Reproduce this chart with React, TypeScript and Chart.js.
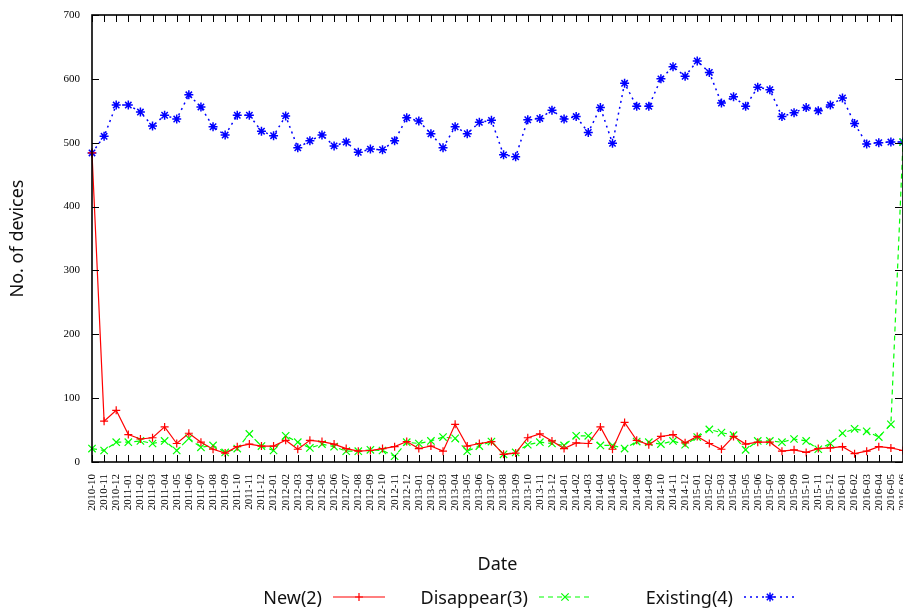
import React, { useEffect, useRef } from 'react';
import { Chart, registerables } from 'chart.js';

Chart.register(...registerables);

const months = [
  '2010-10', '2010-11', '2010-12',
  '2011-01', '2011-02', '2011-03', '2011-04', '2011-05', '2011-06', '2011-07', '2011-08', '2011-09', '2011-10', '2011-11', '2011-12',
  '2012-01', '2012-02', '2012-03', '2012-04', '2012-05', '2012-06', '2012-07', '2012-08', '2012-09', '2012-10', '2012-11', '2012-12',
  '2013-01', '2013-02', '2013-03', '2013-04', '2013-05', '2013-06', '2013-07', '2013-08', '2013-09', '2013-10', '2013-11', '2013-12',
  '2014-01', '2014-02', '2014-03', '2014-04', '2014-05', '2014-07', '2014-08', '2014-09', '2014-10', '2014-11', '2014-12',
  '2015-01', '2015-02', '2015-03', '2015-04', '2015-05', '2015-06', '2015-07', '2015-08', '2015-09', '2015-10', '2015-11', '2015-12',
  '2016-01', '2016-02', '2016-03', '2016-04', '2016-05', '2016-06',
];

const newDevices = [
  484, 64, 81, 43, 36, 38, 55, 29, 45, 31,
  20, 14, 24, 28, 25, 25, 34, 20, 34, 32,
  28, 21, 17, 18, 21, 24, 32, 21, 25, 17,
  59, 25, 29, 32, 12, 14, 38, 44, 33, 21,
  30, 29, 55, 20, 62, 34, 27, 40, 43, 30,
  40, 29, 20, 40, 28, 31, 31, 17, 19, 15,
  21, 22, 24, 13, 17, 24, 22, 18,
];

const disappearDevices = [
  21, 18, 31, 31, 33, 29, 33, 18, 37, 23,
  26, 15, 21, 44, 25, 18, 41, 31, 22, 28,
  24, 17, 17, 19, 18, 9, 31, 29, 33, 39,
  37, 17, 25, 32, 12, 15, 27, 31, 29, 26,
  41, 41, 26, 26, 21, 32, 31, 28, 33, 27,
  39, 51, 46, 42, 19, 33, 33, 31, 36, 33,
  20, 29, 45, 52, 48, 39, 59, 501,
];

const existingDevices = [
  484, 510, 559, 559, 548, 526, 543, 537, 575, 556,
  525, 512, 543, 543, 518, 511, 542, 492, 503, 512,
  495, 501, 485, 490, 489, 503, 539, 534, 514, 492,
  525, 514, 532, 535, 481, 478, 536, 538, 551, 537,
  541, 516, 555, 499, 593, 557, 557, 600, 619, 604,
  628, 610, 562, 572, 557, 587, 583, 541, 547, 555,
  550, 559, 570, 530, 498, 500, 501, 501,
];

const seriesLabels = ['New(2)', 'Disappear(3)', 'Existing(4)'];

const W = 903;
const H = 609;
const PLOT_LEFT = 92;
const PLOT_TOP = 15;
const PLOT_BOTTOM = 462;
const LEGEND_TEXT_RIGHT = [322, 528, 733];
const LEGEND_BASELINE = 604;

function drawMarker(ctx: CanvasRenderingContext2D, style: string, x: number, y: number, r: number) {
  ctx.beginPath();
  if (style === 'cross' || style === 'star') {
    ctx.moveTo(x - r, y); ctx.lineTo(x + r, y);
    ctx.moveTo(x, y - r); ctx.lineTo(x, y + r);
  }
  if (style === 'crossRot' || style === 'star') {
    const d = r * Math.SQRT1_2;
    ctx.moveTo(x - d, y - d); ctx.lineTo(x + d, y + d);
    ctx.moveTo(x - d, y + d); ctx.lineTo(x + d, y - d);
  }
  ctx.stroke();
}

const framePlugin = {
  id: 'gnuplotFrame',
  afterDatasetsDraw(chart: any) {
    const { ctx, chartArea: a, scales } = chart;
    const xs = scales.x;
    const ys = scales.y;
    const tl = 7;
    ctx.save();
    ctx.setLineDash([]);
    ctx.strokeStyle = '#000';
    ctx.lineWidth = 1;
    ctx.beginPath();
    xs.ticks.forEach((_: any, i: number) => {
      const px = Math.round(xs.getPixelForTick(i)) + 0.5;
      ctx.moveTo(px, a.bottom); ctx.lineTo(px, a.bottom - tl);
      ctx.moveTo(px, a.top); ctx.lineTo(px, a.top + tl);
    });
    ys.ticks.forEach((_: any, i: number) => {
      const py = Math.round(ys.getPixelForTick(i)) + 0.5;
      ctx.moveTo(a.left, py); ctx.lineTo(a.left + tl, py);
      ctx.moveTo(a.right - 1, py); ctx.lineTo(a.right - 1 - tl, py);
    });
    ctx.stroke();
    ctx.lineWidth = 1.6;
    ctx.strokeRect(a.left, a.top, a.right - a.left, a.bottom - a.top);
    ctx.restore();
  },
};

const legendPlugin = {
  id: 'gnuplotLegend',
  afterDraw(chart: any) {
    const ctx: CanvasRenderingContext2D = chart.ctx;
    ctx.save();
    chart.data.datasets.forEach((ds: any, i: number) => {
      const tr = LEGEND_TEXT_RIGHT[i];
      ctx.font = '18px "Noto Sans"';
      ctx.fillStyle = '#111';
      ctx.textAlign = 'right';
      ctx.textBaseline = 'alphabetic';
      ctx.fillText(ds.label, tr, LEGEND_BASELINE);
      const y = LEGEND_BASELINE - 7;
      const x0 = tr + 11;
      const x1 = x0 + 52;
      ctx.strokeStyle = ds.borderColor;
      ctx.lineWidth = ds.borderWidth;
      ctx.setLineDash(ds.borderDash || []);
      ctx.beginPath();
      ctx.moveTo(x0, y); ctx.lineTo(x1, y);
      ctx.stroke();
      ctx.setLineDash([]);
      ctx.lineWidth = ds.pointBorderWidth;
      drawMarker(ctx, ds.pointStyle, (x0 + x1) / 2, y, ds.pointRadius);
    });
    ctx.restore();
  },
};

export default function App() {
  const ref = useRef<HTMLCanvasElement | null>(null);

  useEffect(() => {
    document.body.style.margin = '0';
    document.body.style.overflow = 'hidden';
    const canvas = ref.current;
    if (!canvas) return;
    const chart = new Chart(canvas, {
      type: 'line',
      data: {
        labels: months,
        datasets: [
          {
            label: seriesLabels[0],
            data: newDevices,
            borderColor: '#ff0000',
            backgroundColor: '#ff0000',
            borderWidth: 1.2,
            pointStyle: 'cross',
            pointRadius: 4,
            pointBorderWidth: 1.2,
            pointBorderColor: '#ff0000',
            tension: 0,
            clip: false,
          },
          {
            label: seriesLabels[1],
            data: disappearDevices,
            borderColor: '#00ff00',
            backgroundColor: '#00ff00',
            borderWidth: 1.2,
            borderDash: [5, 4],
            pointStyle: 'crossRot',
            pointRadius: 5.2,
            pointBorderWidth: 1.2,
            pointBorderColor: '#00ff00',
            tension: 0,
            clip: false,
          },
          {
            label: seriesLabels[2],
            data: existingDevices,
            borderColor: '#0000ff',
            backgroundColor: '#0000ff',
            borderWidth: 1.5,
            borderDash: [2, 4],
            pointStyle: 'star',
            pointRadius: 4.5,
            pointBorderWidth: 1.5,
            pointBorderColor: '#0000ff',
            tension: 0,
            clip: false,
          },
        ],
      } as any,
      options: {
        responsive: false,
        animation: false,
        devicePixelRatio: 1,
        layout: { autoPadding: false, padding: { top: PLOT_TOP, left: 0, right: 0, bottom: 0 } },
        plugins: {
          legend: { display: false },
          tooltip: { enabled: false },
        },
        scales: {
          x: {
            type: 'category',
            offset: false,
            grid: { display: false, drawTicks: false },
            border: { display: false },
            ticks: {
              autoSkip: false,
              maxRotation: 90,
              minRotation: 90,
              padding: 12,
              color: '#000',
              font: { family: '"Liberation Serif", serif', size: 11 },
            },
            title: {
              display: true,
              text: 'Date',
              color: '#111',
              font: { family: '"Noto Sans"', size: 18 },
              padding: { top: 0, bottom: 33 },
            },
            afterFit: (s: any) => {
              s.height = H - PLOT_BOTTOM;
              s.paddingLeft = 0;
              s.paddingRight = 0;
            },
          },
          y: {
            type: 'linear',
            position: 'left',
            min: 0,
            max: 700,
            grid: { display: false, drawTicks: false },
            border: { display: false },
            ticks: {
              stepSize: 100,
              padding: 12,
              color: '#000',
              font: { family: '"Liberation Serif", serif', size: 11 },
            },
            title: {
              display: true,
              text: 'No. of devices',
              color: '#111',
              font: { family: '"Noto Sans"', size: 18 },
              padding: { top: 7, bottom: 0 },
            },
            afterFit: (s: any) => {
              s.width = PLOT_LEFT;
              s.paddingTop = 0;
              s.paddingBottom = 0;
            },
          },
        },
      } as any,
      plugins: [framePlugin, legendPlugin],
    });
    return () => chart.destroy();
  }, []);

  return (
    <div style={{ width: W, height: H, overflow: 'hidden', position: 'relative' }}>
      <canvas ref={ref} width={W} height={H} style={{ display: 'block', width: W, height: H }} />
    </div>
  );
}
